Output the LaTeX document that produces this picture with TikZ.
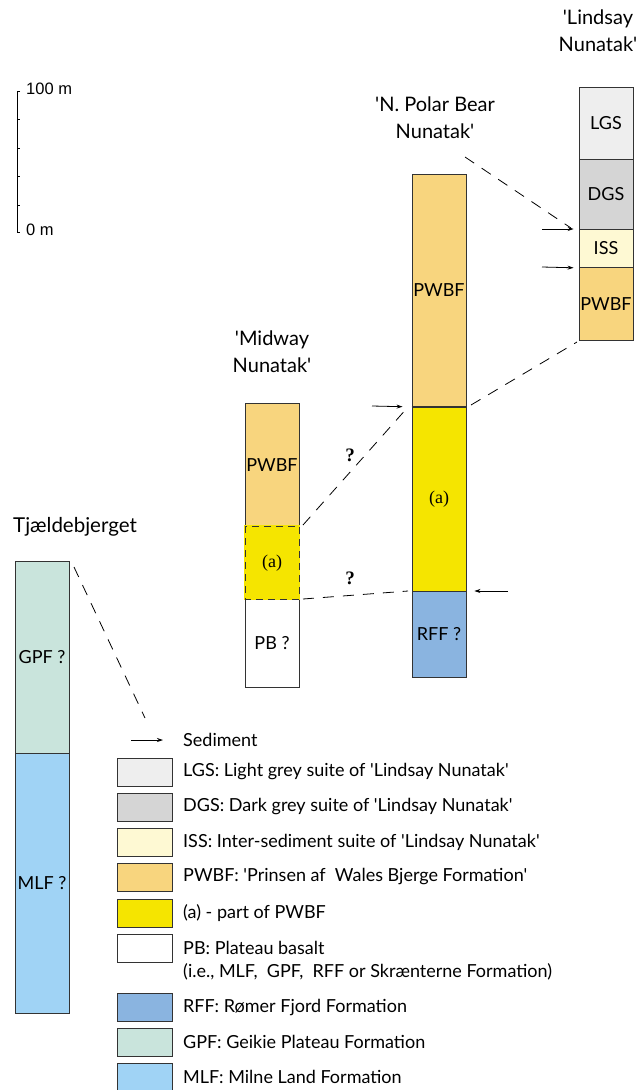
\documentclass[tikz,border=0pt]{standalone}
\usepackage{fontspec}
\setmainfont{Lato}[Ligatures=TeXOff]
\newfontfamily\serifa{Liberation Serif}
\newfontfamily\arialf{Liberation Sans}
\usetikzlibrary{arrows.meta}
\definecolor{clgs}{HTML}{EEEEEE}
\definecolor{cdgs}{HTML}{D5D5D5}
\definecolor{ciss}{HTML}{FEF9D3}
\definecolor{cpwbf}{HTML}{F8D57E}
\definecolor{ca}{HTML}{F5E500}
\definecolor{crff}{HTML}{8AB4E0}
\definecolor{cgpf}{HTML}{C9E4DC}
\definecolor{cmlf}{HTML}{A0D3F5}
\definecolor{edge}{HTML}{333333}
\tikzset{
  seg/.style={draw=edge, line width=0.9pt, minimum width=54pt, anchor=north, inner sep=0pt, font=\fontsize{18}{20}\selectfont},
  legbox/.style={draw=edge, line width=0.9pt, minimum width=55pt, minimum height=28pt, inner sep=0pt},
  legtext/.style={anchor=west, inner sep=0pt, font=\fontsize{18}{20}\selectfont},
  title/.style={align=center, inner sep=0pt, font=\fontsize{20}{27}\selectfont},
  dashline/.style={line width=0.8pt, dash pattern=on 11pt off 9pt},
  sedarrow/.style={line width=0.8pt, -{Stealth[length=6pt,width=4pt]}},
  qmark/.style={inner sep=0pt, font=\serifa\bfseries\fontsize{19}{20}\selectfont}
}
\begin{document}
\begin{tikzpicture}[x=1pt,y=-1pt]
\useasboundingbox (0,0) rectangle (644,1090);
% scale bar
\draw[line width=0.8pt] (20,91) -- (17,91) -- (17,232) -- (20,232);
\foreach \yy in {119,148,176,205} \draw[line width=0.8pt] (17,\yy) -- (20,\yy);
\node[anchor=west, inner sep=0pt, font=\arialf\fontsize{16.5}{18}\selectfont] (s100) at (26,89) {100 m};
\node[anchor=west, inner sep=0pt, font=\arialf\fontsize{16.5}{18}\selectfont] (s0) at (26,230) {0 m};

% Lindsay Nunatak
\node[title] (tlind) at (598,31) {'Lindsay\\Nunatak'};
\node[seg, fill=clgs, minimum height=72pt] (lgs) at (606,87) {LGS};
\node[seg, fill=cdgs, minimum height=70pt] (dgs) at (606,159) {DGS};
\node[seg, fill=ciss, minimum height=38pt] (iss) at (606,229) {ISS};
\node[seg, fill=cpwbf, minimum height=73pt] (lpwbf) at (606,267) {PWBF};

% N. Polar Bear Nunatak
\node[title] (tnpb) at (435,118) {'N. Polar Bear\\Nunatak'};
\node[seg, fill=cpwbf, minimum height=232pt] (npwbf) at (439,174) {PWBF};
\node[seg, fill=ca, minimum height=185pt, font=\serifa\fontsize{18}{20}\selectfont] (na) at (439,406) {(a)};
\node[seg, fill=crff, minimum height=86pt] (nrff) at (439,591) {RFF ?};
\draw[edge, line width=1.6pt] (npwbf.south west) -- (npwbf.south east);

% Midway Nunatak
\node[title] (tmid) at (272,352) {'Midway\\Nunatak'};
\node[seg, fill=cpwbf, minimum height=123pt] (mpwbf) at (272,403) {PWBF};
\node[seg, fill=white, minimum height=88pt] (mpb) at (272,599) {PB ?};
\node[seg, draw=none, fill=ca, minimum height=75pt, minimum width=55.5pt, font=\serifa\fontsize{18}{20}\selectfont] (ma) at (272,525) {(a)};
\draw[edge, line width=0.9pt, dash pattern=on 7pt off 5pt] (245,526) rectangle (299,599);

% Tjaeldebjerget
\node[anchor=west, inner sep=0pt, font=\fontsize{20.5}{22}\selectfont] (ttja) at (13,527) {Tjældebjerget};
\node[seg, fill=cgpf, minimum height=192pt] (gpf) at (42,561) {GPF ?};
\node[seg, fill=cmlf, minimum height=260pt] (mlf) at (42,753) {MLF ?};

% sediment arrows
\coordinate (la1) at (542,229);
\coordinate (la2) at (542,267);
\draw[sedarrow, shorten >=5pt] (la1) -- (iss.north west);
\draw[sedarrow, shorten >=5pt] (la2) -- (iss.south west);
\coordinate (na1) at (372,406);
\draw[sedarrow, shorten >=9pt] (na1) -- (npwbf.south west);
\coordinate (na2) at (508,591);
\draw[sedarrow, shorten >=8pt] (na2) -- (nrff.north east);

% dashed correlation lines
\coordinate (d1a) at (465,157);
\coordinate (d1b) at (571,228);
\draw[dashline] (d1a) -- (d1b);
\coordinate (d2a) at (471,405);
\coordinate (d2b) at (577,342);
\draw[dashline] (d2a) -- (d2b);
\coordinate (d3a) at (303,525);
\coordinate (d3b) at (408,407);
\draw[dashline] (d3a) -- (d3b);
\coordinate (d4a) at (303,599);
\coordinate (d4b) at (408,591);
\draw[dashline] (d4a) -- (d4b);
\coordinate (d5a) at (74,567);
\coordinate (d5b) at (145,718);
\draw[dashline] (d5a) -- (d5b);
\node[qmark] (q1) at (350,455) {?};
\node[qmark] (q2) at (350,578) {?};

% legend
\coordinate (sa) at (131,740);
\coordinate (sb) at (163,740);
\draw[sedarrow] (sa) -- (sb);
\node[legtext] (lsed) at (183,740) {Sediment};
\node[legbox, fill=clgs] (b1) at (144.5,772) {};
\node[legtext] (t1) at (183,772) {LGS: Light grey suite of 'Lindsay Nunatak'};
\node[legbox, fill=cdgs] (b2) at (144.5,807) {};
\node[legtext] (t2) at (183,807) {DGS: Dark grey suite of 'Lindsay Nunatak'};
\node[legbox, fill=ciss] (b3) at (144.5,842) {};
\node[legtext] (t3) at (183,842) {ISS: Inter-sediment suite of 'Lindsay Nunatak'};
\node[legbox, fill=cpwbf] (b4) at (144.5,877) {};
\node[legtext] (t4) at (183,877) {PWBF: 'Prinsen af\ \ Wales Bjerge Formation'};
\node[legbox, fill=ca] (b5) at (144.5,913) {};
\node[legtext] (t5) at (183,913) {(a) - part of PWBF};
\node[legbox, fill=white] (b6) at (144.5,948) {};
\node[legtext] (t6) at (183,948) {PB: Plateau basalt};
\node[legtext] (t6b) at (183,972) {(i.e., MLF,\ \ GPF,\ \ RFF or Skrænterne Formation)};
\node[legbox, fill=crff] (b7) at (144.5,1007) {};
\node[legtext] (t7) at (183,1007) {RFF: Rømer Fjord Formation};
\node[legbox, fill=cgpf] (b8) at (144.5,1042) {};
\node[legtext] (t8) at (183,1042) {GPF: Geikie Plateau Formation};
\node[legbox, fill=cmlf] (b9) at (144.5,1077) {};
\node[legtext] (t9) at (183,1077) {MLF: Milne Land Formation};
\end{tikzpicture}
\end{document}
